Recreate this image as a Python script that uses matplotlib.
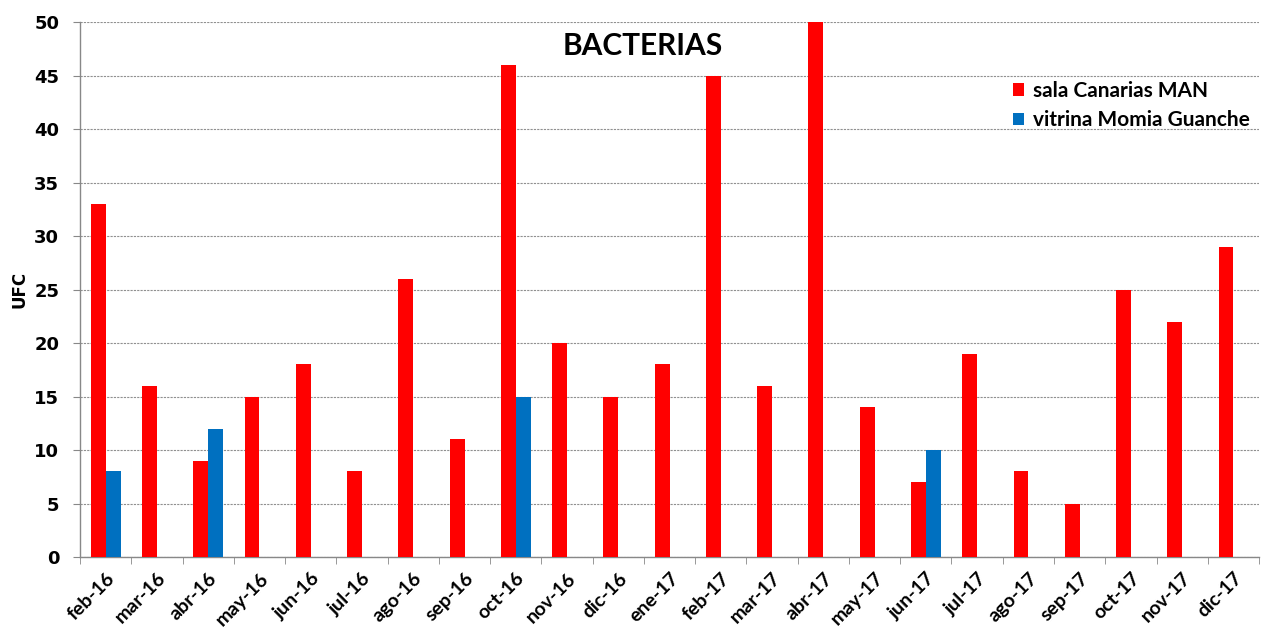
import matplotlib
matplotlib.use("Agg")
import matplotlib.pyplot as plt
import numpy as np

categories = ["feb-16", "mar-16", "abr-16", "may-16", "jun-16", "jul-16", "ago-16", "sep-16",
              "oct-16", "nov-16", "dic-16", "ene-17", "feb-17", "mar-17", "abr-17", "may-17",
              "jun-17", "jul-17", "ago-17", "sep-17", "oct-17", "nov-17", "dic-17"]
sala = [33, 16, 9, 15, 18, 8, 26, 11, 46, 20, 15, 18, 45, 16, 50, 14, 7, 19, 8, 5, 25, 22, 29]
vitrina = [8, 0, 12, 0, 0, 0, 0, 0, 15, 0, 0, 0, 0, 0, 0, 0, 10, 0, 0, 0, 0, 0, 0]
yticks = [0, 5, 10, 15, 20, 25, 30, 35, 40, 45, 50]

fig = plt.figure(figsize=(12.71, 6.33), dpi=100)
ax = fig.add_axes([0.063, 0.12, 0.9276, 0.845])

x = np.arange(len(categories))
w = 0.29
ax.bar(x, sala, width=-w, align="edge", color="#FF0000", label="sala Canarias MAN", zorder=3)
ax.bar(x, vitrina, width=w, align="edge", color="#0070C0", label="vitrina Momia Guanche", zorder=3)

ax.set_xlim(-0.5, len(categories) - 0.5)
ax.set_ylim(0, 50)
ax.set_yticks(yticks)
ax.set_yticklabels([str(v) for v in yticks], fontsize=13, fontweight="bold", family="DejaVu Sans")
ax.yaxis.grid(True, linestyle=(0, (2, 1)), color="#909090", linewidth=0.8, zorder=0)

ax.set_xticks(x)
ax.set_xticklabels(categories, rotation=45, ha="right", rotation_mode="anchor",
                   fontsize=14, fontweight="bold", family="Lato")
ax.set_xticks(np.arange(-0.5, len(categories) + 0.5, 1), minor=True)
ax.tick_params(axis="x", which="major", length=0, pad=9)
ax.tick_params(axis="x", which="minor", length=5, color="#888888", direction="out")
ax.tick_params(axis="y", length=5, color="#888888", direction="out", pad=10)

for s in ["top", "right"]:
    ax.spines[s].set_visible(False)
for s in ["left", "bottom"]:
    ax.spines[s].set_color("#888888")
    ax.spines[s].set_linewidth(1)

ax.set_ylabel("UFC", fontsize=12, fontweight="bold", labelpad=4)

ax.text(0.477, 0.982, "BACTERIAS", transform=ax.transAxes, ha="center", va="top",
        fontsize=21.5, fontweight="bold", family="Lato")

leg = ax.legend(loc="upper left", bbox_to_anchor=(0.775, 0.925), frameon=False,
                handlelength=0.55, handleheight=0.55, handletextpad=0.45, labelspacing=0.45,
                prop={"family": "Lato", "weight": "bold", "size": 15})

fig.savefig("out.png", dpi=100)
